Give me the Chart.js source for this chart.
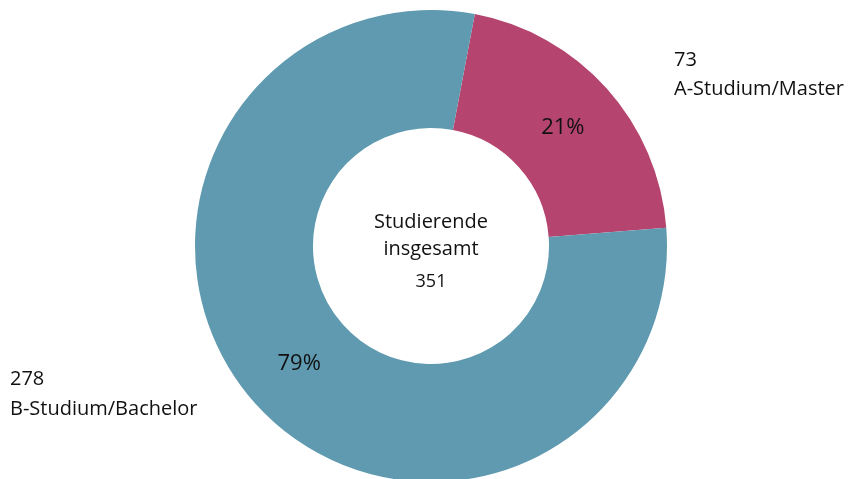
<!DOCTYPE html>
<html>
<head>
<meta charset="utf-8">
<script src="https://cdn.jsdelivr.net/npm/chart.js@4/dist/chart.umd.min.js"></script>
<style>
  html, body { margin: 0; padding: 0; background: #fff; overflow: hidden; }
  #wrap { width: 851px; height: 482px; position: relative; }
</style>
</head>
<body>
<div id="wrap"><canvas id="myChart"></canvas></div>
<script>
// Daten
const categories = ['A-Studium/Master', 'B-Studium/Bachelor'];
const values = [73, 278];
const percentLabels = ['21%', '79%'];
const centerLines = ['Studierende', 'insgesamt', '351'];
const colors = ['#b5446e', '#5f9ab0'];

const FONT = '"Open Sans", "Noto Sans", sans-serif';

// Beschriftungen: Prozent im Ring, Werte außen, Text in der Mitte
const labelPlugin = {
    id: 'labels',
    afterDatasetsDraw(chart) {
        const ctx = chart.ctx;
        const area = chart.chartArea;
        const arcs = chart.getDatasetMeta(0).data;
        ctx.save();
        ctx.fillStyle = '#111';

        // Prozentwerte im Segment
        ctx.font = '22px ' + FONT;
        ctx.textAlign = 'center';
        ctx.textBaseline = 'middle';
        arcs.forEach((arc, i) => {
            const p = arc.tooltipPosition();
            ctx.fillText(percentLabels[i], p.x, p.y);
        });

        // Mitte
        const cx = arcs[0].x;
        const cy = arcs[0].y;
        ctx.textBaseline = 'alphabetic';
        ctx.font = '20px ' + FONT;
        ctx.fillText(centerLines[0], cx, cy - 18);
        ctx.fillText(centerLines[1], cx, cy + 9);
        ctx.font = '18px ' + FONT;
        ctx.fillText(centerLines[2], cx, cy + 41);

        // Außenbeschriftungen
        ctx.textAlign = 'left';
        ctx.font = '20px ' + FONT;
        const rx = area.right + 7;
        ctx.fillText(String(values[0]), rx, cy - 180);
        ctx.fillText(categories[0], rx, cy - 151);
        const lx = 10;
        ctx.fillText(String(values[1]), lx, cy + 139);
        ctx.fillText(categories[1], lx, cy + 169);
        ctx.restore();
    }
};

const ctx = document.getElementById('myChart').getContext('2d');
const myChart = new Chart(ctx, {
    type: 'doughnut',
    data: {
        labels: categories,
        datasets: [{
            data: values,
            backgroundColor: colors,
            borderWidth: 0
        }]
    },
    options: {
        responsive: true,
        maintainAspectRatio: false,
        animation: false,
        cutout: '50%',
        rotation: 10.7,
        layout: {
            padding: { left: 195, right: 184, top: 10, bottom: 0 }
        },
        plugins: {
            legend: { display: false },
            tooltip: { enabled: false }
        }
    },
    plugins: [labelPlugin]
});
</script>
</body>
</html>
